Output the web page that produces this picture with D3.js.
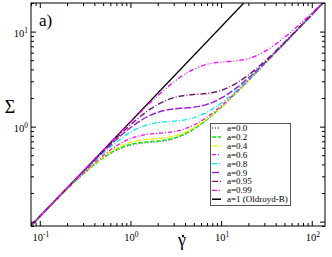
<!DOCTYPE html>
<html>
<head>
<meta charset="utf-8">
<script src="https://cdn.jsdelivr.net/npm/d3@7"></script>
<style>
body{margin:0;background:#fff}
</style>
</head>
<body>
<svg id="mySVG" width="332" height="257"></svg>
<script>
//---data---
var shearRates = [0.08, 0.15, 0.3, 0.5, 0.7, 1, 1.5, 2, 3, 4, 5, 7, 10, 15, 20, 30, 50, 80, 140]
var sigmaA000 = [0.090, 0.167, 0.315, 0.467, 0.565, 0.640, 0.677, 0.692, 0.744, 0.831, 0.938, 1.187, 1.597, 2.315, 3.049, 4.533, 7.52, 12.01, 21.01]
var sigmaA020 = [0.090, 0.167, 0.316, 0.470, 0.572, 0.650, 0.690, 0.705, 0.755, 0.840, 0.946, 1.193, 1.601, 2.318, 3.051, 4.534, 7.52, 12.01, 21.01]
var sigmaA040 = [0.090, 0.167, 0.318, 0.480, 0.591, 0.683, 0.734, 0.750, 0.794, 0.871, 0.973, 1.213, 1.615, 2.327, 3.058, 4.539, 7.52, 12.02, 21.01]
var sigmaA060 = [0.091, 0.168, 0.323, 0.497, 0.627, 0.748, 0.827, 0.851, 0.885, 0.949, 1.038, 1.262, 1.651, 2.351, 3.076, 4.551, 7.53, 12.02, 21.01]
var sigmaA080 = [0.091, 0.169, 0.330, 0.525, 0.688, 0.871, 1.037, 1.103, 1.143, 1.180, 1.240, 1.418, 1.765, 2.429, 3.135, 4.590, 7.55, 12.03, 21.02]
var sigmaA090 = [0.091, 0.170, 0.334, 0.543, 0.733, 0.974, 1.255, 1.414, 1.535, 1.570, 1.602, 1.715, 1.990, 2.586, 3.255, 4.671, 7.60, 12.06, 21.04]
var sigmaA095 = [0.091, 0.170, 0.336, 0.553, 0.760, 1.043, 1.431, 1.710, 2.016, 2.131, 2.175, 2.237, 2.412, 2.891, 3.490, 4.831, 7.70, 12.13, 21.07]
var sigmaA099 = [0.091, 0.170, 0.339, 0.563, 0.784, 1.111, 1.632, 2.116, 2.943, 3.573, 4.022, 4.523, 4.778, 4.934, 5.188, 6.155, 8.70, 12.81, 21.35]
var oldroydRates = [0.08, 17.8]
var oldroydSigma = [0.09, 20]
var seriesLabels = ["a=0.0", "a=0.2", "a=0.4", "a=0.6", "a=0.8", "a=0.9", "a=0.95", "a=0.99", "a=1 (Oldroyd-B)"]
var xMajorTicks = [0.1, 1, 10, 100]
var yMajorTicks = [0.1, 1, 10]
var xTickLabels = ["10|-1", "10|0", "10|1", "10|2"]
var yTickLabels = ["", "10|0", "10|1"]

var series = [
  {vals: sigmaA000, color: "#8a2c78", dash: "1,2", w: 1.3},
  {vals: sigmaA020, color: "#00ee00", dash: "4,2", w: 1.5},
  {vals: sigmaA040, color: "#f0f000", dash: "6,2", w: 1.3},
  {vals: sigmaA060, color: "#ff00ff", dash: "4,2,1,2", w: 1.3},
  {vals: sigmaA080, color: "#00e8f0", dash: "5,2,1,2", w: 1.3},
  {vals: sigmaA090, color: "#9b1fd6", dash: "7,2", w: 1.4},
  {vals: sigmaA095, color: "#6e1a63", dash: "6,2,1,2", w: 1.4},
  {vals: sigmaA099, color: "#ff00ff", dash: "5,2,1,2,1,2", w: 1.3}
]

var FONT = "Liberation Serif, Times New Roman, serif"
var MySVG = d3.select("#mySVG")
MySVG.append("rect").attr("width", 332).attr("height", 257).attr("fill", "white")

var X0 = 31, X1 = 325, Y0 = 3, Y1 = 226
var x = d3.scaleLog().domain([0.08, 140]).range([X0, X1])
var y = d3.scaleLog().domain([0.09, 20]).range([Y1, Y0])

MySVG.append("defs").append("clipPath").attr("id", "plotClip")
  .append("rect").attr("x", X0).attr("y", Y0).attr("width", X1 - X0).attr("height", Y1 - Y0)

//---minor tick lists---
function minorTicks(dom)
{
  var out = []
  for (var e = -2; e <= 2; e++)
    for (var k = 2; k <= 9; k++)
    {
      var v = k * Math.pow(10, e)
      if (v >= dom[0] && v <= dom[1]) out.push(v)
    }
  return out
}

var line = d3.line()
  .x(function(d){ return x(d[0]) })
  .y(function(d){ return y(d[1]) })
  .curve(d3.curveMonotoneX)

var PlotG = MySVG.append("g").attr("clip-path", "url(#plotClip)")

//---black Oldroyd-B line---
PlotG.append("path")
  .datum(d3.zip(oldroydRates, oldroydSigma))
  .attr("d", line)
  .attr("fill", "none")
  .attr("stroke", "black")
  .attr("stroke-width", 1.3)

series.forEach(function(s)
{
  PlotG.append("path")
    .datum(d3.zip(shearRates, s.vals))
    .attr("d", line)
    .attr("fill", "none")
    .attr("stroke", s.color)
    .attr("stroke-width", s.w)
    .attr("stroke-dasharray", s.dash)
})

//---axes, ticks inward on all four sides---
var AxisG = MySVG.append("g").attr("class", "axes")
function tickAxes(axisFn, scale, vals, len, transform)
{
  AxisG.append("g")
    .attr("transform", transform)
    .call(axisFn(scale).tickValues(vals).tickSize(len).tickFormat(""))
    .call(function(g){ g.select(".domain").remove() })
    .selectAll("line").attr("stroke", "black")
}
var xMin = minorTicks(x.domain()), yMin = minorTicks(y.domain())
tickAxes(d3.axisBottom, x, xMin, -3, "translate(0," + Y1 + ")")
tickAxes(d3.axisBottom, x, xMajorTicks, -5, "translate(0," + Y1 + ")")
tickAxes(d3.axisTop, x, xMin, -3, "translate(0," + Y0 + ")")
tickAxes(d3.axisTop, x, xMajorTicks, -5, "translate(0," + Y0 + ")")
tickAxes(d3.axisLeft, y, yMin, -3, "translate(" + X0 + ",0)")
tickAxes(d3.axisLeft, y, yMajorTicks, -5, "translate(" + X0 + ",0)")
tickAxes(d3.axisRight, y, yMin, -3, "translate(" + X1 + ",0)")
tickAxes(d3.axisRight, y, yMajorTicks, -5, "translate(" + X1 + ",0)")

AxisG.append("rect")
  .attr("x", X0).attr("y", Y0)
  .attr("width", X1 - X0).attr("height", Y1 - Y0)
  .attr("fill", "none")
  .attr("stroke", "black")
  .attr("stroke-width", 1)

//---power-of-ten labels---
function powLabel(g, txt, px, py, anchor)
{
  var parts = txt.split("|")
  var t = g.append("text")
    .attr("x", px).attr("y", py)
    .attr("text-anchor", anchor)
    .attr("font-family", FONT)
    .attr("font-size", 10.5)
    .attr("fill", "black")
  t.append("tspan").text(parts[0])
  t.append("tspan").attr("dy", -4).attr("font-size", 7.5).text(parts[1])
}
xMajorTicks.forEach(function(v, i)
{
  powLabel(AxisG, xTickLabels[i], x(v) + 1, 241, "middle")
})
yMajorTicks.forEach(function(v, i)
{
  if (yTickLabels[i] !== "") powLabel(AxisG, yTickLabels[i], X0 - 3, y(v) + 5, "end")
})

//---axis titles---
MySVG.append("text")
  .attr("x", 10).attr("y", 113)
  .attr("text-anchor", "middle")
  .attr("font-family", FONT)
  .attr("font-size", 18)
  .text("\u03A3")
//---gamma with a separate dot above---
var gdot = MySVG.append("g").attr("id", "gammaDotLabel")
gdot.append("text")
  .attr("x", 182).attr("y", 246)
  .attr("text-anchor", "middle")
  .attr("font-family", FONT)
  .attr("font-size", 18)
  .text("\u03B3")
gdot.append("circle")
  .attr("cx", 183).attr("cy", 236)
  .attr("r", 1.2)
  .attr("fill", "black")
MySVG.append("text")
  .attr("x", 39).attr("y", 26)
  .attr("font-family", FONT)
  .attr("font-size", 17)
  .text("a)")

//---legend---
var LegendG = MySVG.append("g").attr("id", "legendG")
LegendG.append("rect")
  .attr("x", 210.5).attr("y", 123.5)
  .attr("width", 80).attr("height", 82)
  .attr("fill", "white")
  .attr("stroke", "#555")
  .attr("stroke-width", 1)
var legendStyles = series.concat([{color: "black", dash: null, w: 1.5}])
legendStyles.forEach(function(s, i)
{
  var ry = 128 + i * 8.9
  LegendG.append("line")
    .attr("x1", 212).attr("x2", 221)
    .attr("y1", ry).attr("y2", ry)
    .attr("stroke", s.color)
    .attr("stroke-width", s.w)
    .attr("stroke-dasharray", s.dash)
  LegendG.append("text")
    .attr("x", 227).attr("y", ry + 3)
    .attr("font-family", FONT)
    .attr("font-size", 9)
    .text(seriesLabels[i])
})
</script>
</body>
</html>
